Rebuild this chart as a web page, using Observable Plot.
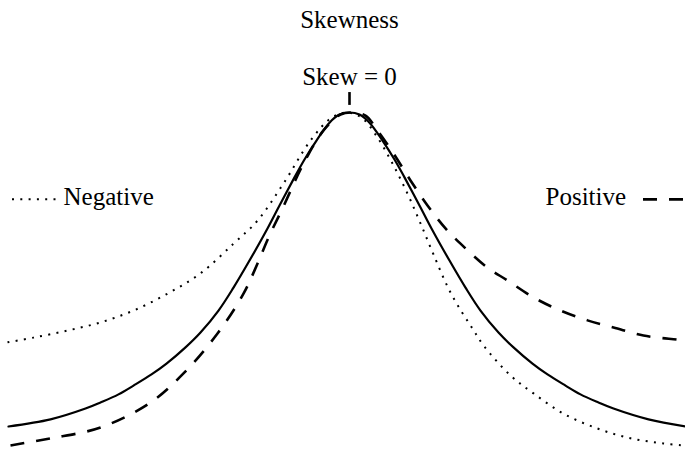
<!DOCTYPE html>
<html>
<head>
<meta charset="utf-8">
<script src="https://cdn.jsdelivr.net/npm/d3@7"></script>
<script src="https://cdn.jsdelivr.net/npm/@observablehq/plot@0.6"></script>
<style>
  html, body { margin: 0; padding: 0; background: #fff; }
  #chart svg { display: block; }
</style>
</head>
<body>
<div id="chart"></div>
<script>
// ---- Data (x: position along the axis, y: relative height, peak = 100) ----
const xSymmetric = [-3.41, -2.99, -2.64, -2.49, -2.31, -2.16, -1.98, -1.83, -1.64, -1.49, -1.31, -1.16, -1.00, -0.82, -0.70, -0.55, -0.45, -0.33, -0.20, -0.10,
  0, 0.10, 0.20, 0.33, 0.45, 0.55, 0.70, 0.82, 1.00, 1.16, 1.31, 1.49, 1.64, 1.83, 1.98, 2.16, 2.31, 2.49, 2.64, 2.99, 3.36];
const ySymmetric = [7.1, 9.2, 12.4, 14.2, 16.6, 19.2, 22.5, 25.7, 30.5, 34.9, 41.4, 48.2, 56.2, 65.7, 72.5, 80.8, 86.1, 91.7, 97.0, 99.4,
  100, 99.4, 97.0, 91.7, 86.1, 80.8, 72.5, 65.7, 56.2, 48.2, 41.4, 34.9, 30.5, 25.7, 22.5, 19.2, 16.6, 14.2, 12.4, 9.2, 7.1];

const xNegative = [-3.42, -3.16, -2.82, -2.49, -2.16, -1.82, -1.49, -1.16, -0.92, -0.66, -0.39, -0.19, -0.04, 0.12, 0.28, 0.43, 0.58, 0.71, 0.84, 0.99, 1.12, 1.23, 1.34, 1.61, 1.84, 2.14, 2.48, 2.81, 3.14, 3.34];
const yNegative = [32.0, 33.4, 35.5, 37.9, 41.4, 46.4, 52.4, 61.2, 68.0, 79.0, 91.7, 98.2, 100, 98.5, 92.6, 84.9, 76.0, 67.2, 58.0, 47.9, 41.1, 36.1, 31.1, 22.2, 16.9, 10.9, 6.5, 3.6, 2.1, 1.5];

const xPositive = [-3.39, -2.99, -2.49, -1.99, -1.66, -1.32, -1.06, -0.92, -0.81, -0.67, -0.46, -0.26, -0.09, 0.03, 0.16, 0.28, 0.44, 0.61, 0.78, 0.96, 1.16, 1.38, 1.58, 1.84, 2.11, 2.38, 2.64, 2.94, 3.28, 3.36];
const yPositive = [1.5, 3.6, 6.8, 14.2, 22.8, 34.6, 46.4, 55.3, 63.0, 71.6, 84.9, 94.7, 99.4, 100, 99.1, 94.7, 87.9, 79.9, 72.5, 65.7, 59.8, 54.1, 50.3, 45.3, 41.4, 38.5, 36.4, 34.0, 32.8, 32.5];

// ---- Text labels ----
const titleLabel = "Skewness";
const zeroLabel = "Skew = 0";
const negativeLabel = "Negative";
const positiveLabel = "Positive";

// ---- Build tables ----
const zip = (xs, ys) => xs.map((x, i) => ({x, y: ys[i]}));
const symmetric = zip(xSymmetric, ySymmetric);
const negative = zip(xNegative, yNegative);
const positive = zip(xPositive, yPositive);

const font = "Liberation Serif";
const DOTS = "2,6.3";
const DASHES = "14,12";
const textStyle = {lineAnchor: "bottom", fontSize: 25, fontFamily: font, fill: "#000"};

const chart = Plot.plot({
  width: 685,
  height: 452,
  marginLeft: 8,
  marginRight: 0,
  marginTop: 112,
  marginBottom: 2,
  x: {domain: [-3.41, 3.36], axis: null},
  y: {domain: [0, 100], axis: null},
  style: {background: "#fff", color: "#000"},
  marks: [
    Plot.line(symmetric, {x: "x", y: "y", curve: "catmull-rom", stroke: "#000", strokeWidth: 2.2}),
    Plot.line(negative, {x: "x", y: "y", curve: "catmull-rom", stroke: "#000", strokeWidth: 2, strokeDasharray: DOTS, strokeLinecap: "butt"}),
    Plot.line(positive, {x: "x", y: "y", curve: "catmull-rom", stroke: "#000", strokeWidth: 2.6, strokeDasharray: DASHES, strokeLinecap: "butt"}),
    // tick above the peak
    Plot.ruleX([0], {y1: 102.1, y2: 105.9, stroke: "#000", strokeWidth: 2.6}),
    // labels
    Plot.text([titleLabel], {x: 0, y: 124.9, text: d => d, textAnchor: "middle", ...textStyle}),
    Plot.text([zeroLabel], {x: 0, y: 108.0, text: d => d, textAnchor: "middle", ...textStyle}),
    Plot.text([negativeLabel], {x: -2.86, y: 72.5, text: d => d, textAnchor: "start", ...textStyle}),
    Plot.text([positiveLabel], {x: 1.96, y: 72.5, text: d => d, textAnchor: "start", ...textStyle}),
    // legend samples
    Plot.ruleY([74.3], {x1: -3.37, x2: -2.88, stroke: "#000", strokeWidth: 2, strokeDasharray: DOTS}),
    Plot.ruleY([74.3], {x1: 2.94, x2: 3.36, stroke: "#000", strokeWidth: 2.6, strokeDasharray: DASHES})
  ]
});
document.getElementById("chart").append(chart);
</script>
</body>
</html>
